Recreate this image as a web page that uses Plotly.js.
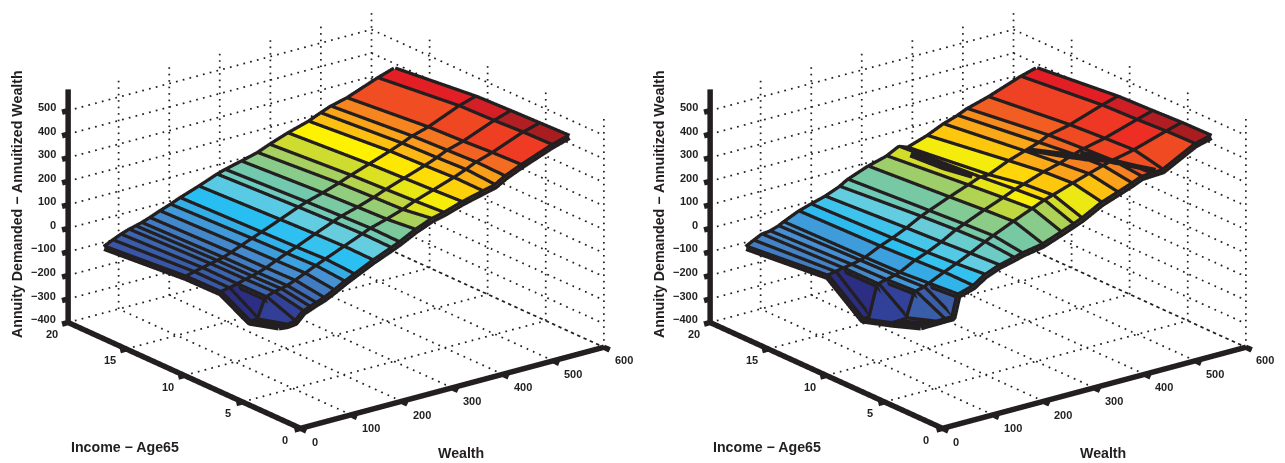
<!DOCTYPE html><html><head><meta charset="utf-8"><script src="https://cdn.plot.ly/plotly-3.0.1.min.js"></script></head><body style="margin:0;background:#fff"><div id="c" style="width:1285px;height:463px"></div><script>
// ---------- data ----------
const income=[3,5.5,8,11,18];
const wealthTicks=[0,100,200,300,400,500,600];
const incomeTicks=[0,5,10,15,20];
const zTicks=[-400,-300,-200,-100,0,100,200,300,400,500];
const wealthL=[26,43,59,75,88,100,116,136,157,176,213,249,265,297,329,353,389,430,454,474,506,567,600];
const zL_3  =[-53,-57,-53,-19,-8,2,14,35,60,80,118,150,165,200,228,240,265,287,300,325,355,405,426];
const zL_5  =[-89,-91,-6,6,12,18,31,50,70,87,120,152,167,187,210,232,258,288,308,328,350,402,422];
const zL_8  =[-21,-15,-7,3,9,16,28,47,66,82,116,148,162,182,205,225,252,282,302,322,342,395,418];
const zL_11 =[-23,-14,-6,2,8,14,26,44,62,78,110,142,155,175,198,218,245,276,296,315,335,390,412];
const zL_18 =[-53,-36,-21,-9,-2,5,17,34,50,67,95,125,136,153,171,192,220,246,268,285,302,352,375];
const wealthR=[26,41,57,73,90,100,130,154,182,211,227,267,304,328,345,384,416,444,463,505,569,600];
const zR_3  =[-53,-52,-52,-51,-51,38,57,91,115,130,140,155,185,205,220,265,290,312,330,335,408,426];
const zR_5  =[-97,-97,-94,10,18,28,58,80,108,140,157,195,228,250,262,290,312,330,342,362,405,424];
const zR_8  =[-136,-136,-6,3,12,18,52,72,100,135,150,187,218,240,252,282,300,322,335,355,398,418];
const zR_11 =[-19,-12,-6,0,8,14,45,65,92,125,140,175,205,225,225,262,285,305,325,345,392,412];
const zR_18 =[-53,-36,-19,-15,-3,8,37,53,70,95,116,149,171,198,184,212,243,263,281,307,357,376];
// fold lines that cross the right surface
const foldA_w=[316,322],foldA_i=[16.5,11.5],foldA_z=[212,220];
const foldB_w=[420,440,478,490],foldB_i=[11,7.3,3.8,3],foldB_z=[292,335,346,344];
const foldC_w=[440,483],foldC_i=[7.3,3.2],foldC_z=[350,346];
const zColors=[[0,'#2b2e83'],[.08,'#32429b'],[.15,'#3a5ba8'],[.25,'#4690d3'],[.34,'#29bff2'],[.42,'#64cde0'],[.5,'#74c9a9'],[.58,'#a3cf62'],[.63,'#d6de26'],[.68,'#fff200'],[.74,'#fdc010'],[.8,'#f9971d'],[.83,'#f47a20'],[.86,'#f04e23'],[.9,'#ef3a23'],[.93,'#ed2224'],[.965,'#ed1c24'],[.98,'#d91f26'],[.99,'#c11f26'],[1,'#a91d21']];
// ---------- styles ----------
const INK='#231f20', W_MAX=600,I_MAX=20,Z_MIN=-400,Z_TOP=590;
const FONT='"Liberation Sans",Arial,sans-serif';
const MESH_W=13, AXIS_W=11, GRID_W=3.5, K=1.757;
function surfaceTraces(scene,W,Z){
  const xs=[],ys=[],zs=[],ii=[],jj=[],kk=[],cell=[];
  const nI=income.length,nW=W.length;
  for(let a=0;a<nI;a++)for(let b=0;b<nW;b++){xs.push(W[b]);ys.push(income[a]);zs.push(Z[a][b]);}
  for(let a=0;a<nI-1;a++)for(let b=0;b<nW-1;b++){
    const p=a*nW+b,q=p+1,r=p+nW,s=r+1;
    ii.push(p,p);jj.push(q,s);kk.push(s,r);
    const col=Z[a][b];cell.push(col,col);
  }
  const mesh={type:'mesh3d',scene,x:xs,y:ys,z:zs,i:ii,j:jj,k:kk,intensity:cell,intensitymode:'cell',colorscale:zColors,cmin:Math.min(...cell),cmax:Math.max(...cell),showscale:false,flatshading:true,hoverinfo:'skip',lighting:{ambient:1,diffuse:0,specular:0,roughness:1,fresnel:0}};
  const lx=[],ly=[],lz=[];
  for(let a=0;a<nI;a++){for(let b=0;b<nW;b++){lx.push(W[b]);ly.push(income[a]);lz.push(Z[a][b]);}lx.push(null);ly.push(null);lz.push(null);}
  for(let b=0;b<nW;b++){for(let a=0;a<nI;a++){lx.push(W[b]);ly.push(income[a]);lz.push(Z[a][b]);}lx.push(null);ly.push(null);lz.push(null);}
  const lines={type:'scatter3d',mode:'lines',scene,x:lx,y:ly,z:lz,line:{color:INK,width:MESH_W},hoverinfo:'skip'};
  return [mesh,lines];
}
function frameTraces(scene){
  const gx=[],gy=[],gz=[];
  // dotted rule: short pieces along a, b
  const seg=(a,b,n)=>{for(let t=0;t<n;t++){const u=t/n,v=(t+.25)/n;gx.push(a[0]+(b[0]-a[0])*u,a[0]+(b[0]-a[0])*v,null);gy.push(a[1]+(b[1]-a[1])*u,a[1]+(b[1]-a[1])*v,null);gz.push(a[2]+(b[2]-a[2])*u,a[2]+(b[2]-a[2])*v,null);}};
  const nW=45,nI=37,nZ=36;
  wealthTicks.slice(1).forEach(w=>{seg([w,0,Z_MIN],[w,I_MAX,Z_MIN],nI);seg([w,I_MAX,Z_MIN],[w,I_MAX,Z_TOP],nZ);});
  incomeTicks.slice(0,-1).forEach(v=>{seg([0,v,Z_MIN],[W_MAX,v,Z_MIN],nW);seg([W_MAX,v,Z_MIN],[W_MAX,v,Z_TOP],nZ);});
  zTicks.slice(1).forEach(h=>{seg([0,I_MAX,h],[W_MAX,I_MAX,h],nW);seg([W_MAX,I_MAX,h],[W_MAX,0,h],nI);});
  seg([0,I_MAX,Z_MIN],[W_MAX,I_MAX,Z_MIN],nW);seg([W_MAX,I_MAX,Z_MIN],[W_MAX,0,Z_MIN],nI);
  const grid={type:'scatter3d',mode:'lines',scene,x:gx,y:gy,z:gz,line:{color:INK,width:GRID_W},hoverinfo:'skip'};
  const ax=[],ay=[],az=[];const s2=(a,b)=>{ax.push(a[0],b[0],null);ay.push(a[1],b[1],null);az.push(a[2],b[2],null);};
  s2([0,0,Z_MIN],[W_MAX,0,Z_MIN]);s2([0,0,Z_MIN],[0,I_MAX,Z_MIN]);s2([0,I_MAX,Z_MIN],[0,I_MAX,Z_TOP]);
  wealthTicks.forEach(w=>s2([w,0,Z_MIN],[w,-.5,Z_MIN]));
  incomeTicks.forEach(v=>s2([0,v,Z_MIN],[-12,v,Z_MIN]));
  zTicks.forEach(h=>s2([0,I_MAX,h],[-12,I_MAX,h]));
  const axes={type:'scatter3d',mode:'lines',scene,x:ax,y:ay,z:az,line:{color:INK,width:AXIS_W},hoverinfo:'skip'};
  return [grid,axes];
}
function foldTrace(scene){
  const sets=[[foldA_w,foldA_i,foldA_z],[foldB_w,foldB_i,foldB_z],[foldC_w,foldC_i,foldC_z]];
  const x=[],y=[],z=[];
  sets.forEach(s=>{x.push(...s[0],null);y.push(...s[1],null);z.push(...s[2],null);});
  return {type:'scatter3d',mode:'lines',scene,x,y,z,line:{color:INK,width:MESH_W},hoverinfo:'skip'};
}
function tickNotes(){
  const f={family:FONT,size:11,color:INK,weight:700};const out=[];
  wealthTicks.forEach(w=>out.push({x:w,y:0,z:Z_MIN,text:String(w),showarrow:false,xshift:w?20:14,yshift:-13,font:f}));
  incomeTicks.forEach(v=>out.push({x:0,y:v,z:Z_MIN,text:String(v),showarrow:false,xshift:v==5?-14:-16,yshift:-11,font:f}));
  zTicks.forEach(h=>out.push({x:0,y:I_MAX,z:h,text:String(h).replace('-','\u2212'),showarrow:false,xanchor:'right',xshift:-10,yshift:3.5,font:f}));
  return out;
}
function sceneLayout(dom){
  return {domain:dom,aspectmode:'manual',aspectratio:{x:1.0667*K,y:1.07*K,z:.6706*K},
    camera:{eye:{x:-.57,y:-.744,z:.349},up:{x:0,y:0,z:1},center:{x:0,y:0,z:0},projection:{type:'orthographic'}},
    xaxis:{visible:false,range:[-20,620]},yaxis:{visible:false,range:[-.7,20.7]},zaxis:{visible:false,range:[-420,600]},annotations:tickNotes()};
}
const Z_L=[zL_3,zL_5,zL_8,zL_11,zL_18];
const Z_R=[zR_3,zR_5,zR_8,zR_11,zR_18];
const data=[...frameTraces('scene'),...surfaceTraces('scene',wealthL,Z_L),...frameTraces('scene2'),...surfaceTraces('scene2',wealthR,Z_R),foldTrace('scene2')];
const tf={family:FONT,size:14.2,color:INK,weight:700};
const mid={xanchor:'center',yanchor:'middle',xref:'paper',yref:'paper',showarrow:false,font:tf};
function titles(dx){return [
 {...mid,x:(125+dx)/1285,y:1-447/463,text:'Income \u2212 Age65'},
 {...mid,x:(461+dx)/1285,y:1-453/463,text:'Wealth'},
 {...mid,x:(17+dx)/1285,y:1-204/463,text:'Annuity Demanded \u2212 Annuitized Wealth',textangle:-90}];}
Plotly.newPlot('c',data,{width:1285,height:463,margin:{l:0,r:0,t:0,b:0},showlegend:false,paper_bgcolor:'#fff',
 scene:sceneLayout({x:[.0225,.5005],y:[.0557,.9957]}),scene2:sceneLayout({x:[.5218,.9996],y:[.0557,.9957]}),
 annotations:[...titles(0),...titles(642)]},{displayModeBar:false});
</script></body></html>
